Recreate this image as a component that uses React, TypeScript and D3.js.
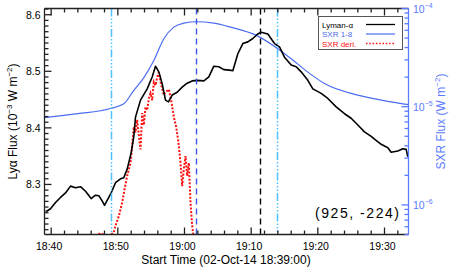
import * as d3 from "d3";

const width = 454;
const height = 272;
const plot = { left: 44.5, right: 408.5, top: 8.5, bottom: 234.5 };

const font = "'Liberation Sans', Arial, Helvetica, sans-serif";
const blue = "#4b6cf0";
const axisBlue = "#5a7bff";
const cyan = "#4ec0ff";
const red = "#ff1010";

// time axis: minutes after the start time 18:39:00
const startTime = new Date(2014, 9, 2, 18, 39, 0);
const endMinute = 54.6;

// Lyman-alpha flux (10^-3 W m^-2)
const lyaMinutes = [
  0.15, 0.4, 0.9, 1.65, 2.4, 3.15, 3.9, 4.65, 5.4, 6.15, 7.0, 7.65, 8.15, 8.65, 9.0, 9.5,
  10.0, 10.65, 11.4, 11.9, 12.4, 13.0, 13.4, 13.65, 14.4, 15.4, 16.15, 16.65, 17.15, 17.65,
  18.15, 18.6, 19.15, 19.9, 20.65, 21.4, 22.15, 22.9, 23.9, 24.65, 25.4, 26.15, 26.9, 27.75,
  28.25, 29.0, 29.75, 30.5, 31.25, 32.0, 32.5, 33.5, 34.5, 35.25, 36.0, 37.0, 37.75, 38.5,
  39.5, 40.25, 41.5, 42.5, 43.75, 45.0, 46.0, 47.0, 48.0, 49.0, 49.5, 50.5, 51.5, 52.0, 53.0,
  53.75, 54.25, 54.5,
];
const lyaFlux = [
  8.253, 8.253, 8.257, 8.268, 8.277, 8.285, 8.297, 8.294, 8.296, 8.288, 8.275, 8.281, 8.28,
  8.271, 8.263, 8.274, 8.285, 8.303, 8.31, 8.312, 8.327, 8.356, 8.385, 8.419, 8.449, 8.469,
  8.49, 8.509, 8.499, 8.478, 8.449, 8.446, 8.458, 8.463, 8.472, 8.479, 8.483, 8.484, 8.483,
  8.49, 8.509, 8.508, 8.503, 8.502, 8.501, 8.531, 8.549, 8.552, 8.558, 8.566, 8.569, 8.566,
  8.549, 8.543, 8.525, 8.511, 8.508, 8.499, 8.484, 8.469, 8.461, 8.452, 8.437, 8.425, 8.417,
  8.405, 8.393, 8.385, 8.38, 8.371, 8.365, 8.357, 8.359, 8.363, 8.362, 8.349,
];

// GOES 1-8 A flux (W m^-2)
const sxrMinutes = [
  0, 5, 9.9, 11.9, 13.4, 14.9, 16.4, 17.9, 19.4, 20.9, 22.75, 25.4, 27.9, 32, 34.5, 37, 39.5,
  42, 47, 52, 54.6,
];
const sxrFlux = [
  7.75e-6, 8.5e-6, 9.6e-6, 1.07e-5, 1.47e-5, 1.98e-5, 2.96e-5, 4.92e-5, 6.46e-5, 7.09e-5,
  7.33e-5, 7.09e-5, 6.46e-5, 5.23e-5, 4.11e-5, 3.08e-5, 2.25e-5, 1.72e-5, 1.31e-5, 1.12e-5,
  1.05e-5,
];

// SXR time derivative, scaled onto the Lyman-alpha axis
const derivMinutes = [
  7.2, 8.4, 9.3, 10.35, 10.65, 11.15, 11.65, 12.0, 12.4, 12.9, 13.15, 13.4, 13.65, 13.9, 14.15,
  14.4, 14.65, 14.9, 15.15, 15.4, 15.65, 15.9, 16.15, 16.4, 16.65, 16.9, 17.15, 17.3, 17.65,
  17.9, 18.15, 18.65, 19.0, 19.4, 19.75, 20.05, 20.15, 20.4, 20.65, 20.9, 21.15, 21.4, 21.65,
  21.9, 22.15, 22.4,
];
const derivValue = [
  8.205, 8.214, 8.208, 8.214, 8.227, 8.244, 8.268, 8.291, 8.315, 8.338, 8.368, 8.402, 8.392,
  8.414, 8.387, 8.362, 8.426, 8.405, 8.437, 8.431, 8.452, 8.461, 8.449, 8.481, 8.475, 8.489,
  8.498, 8.487, 8.469, 8.458, 8.463, 8.468, 8.449, 8.419, 8.402, 8.378, 8.368, 8.338, 8.297,
  8.327, 8.35, 8.315, 8.338, 8.268, 8.227, 8.205,
];

const markerTimes = ["18:49:00", "19:01:45", "19:11:20", "19:13:50"];
const markerKinds = ["dashdot", "dashblue", "dashblack", "dashdot"];

const lyaTicks = [8.3, 8.4, 8.5, 8.6];
const sxrTicks = [1e-6, 1e-5, 1e-4];
const lyaDomain = [8.2115, 8.611];
const sxrDomain = [5e-7, 1e-4];

const legendNames = ["Lyman-\u03b1", "SXR 1-8", "SXR deri."];
const location = "(925, -224)";
const xTitle = "Start Time (02-Oct-14 18:39:00)";

const atMinute = (m: number) => new Date(startTime.getTime() + Math.round(m * 60) * 1000);
const parseClock = (s: string) => {
  const [h, mi, se] = s.split(":").map(Number);
  return new Date(2014, 9, 2, h, mi, se);
};

const markerStyle: Record<string, { stroke: string; dash: string; w: number }> = {
  dashdot: { stroke: cyan, dash: "8 2 1.5 2 1.5 2 1.5 2", w: 1.5 },
  dashblue: { stroke: "#3a55e8", dash: "6 4", w: 1.4 },
  dashblack: { stroke: "#000", dash: "6 4", w: 1.4 },
};

export default function App() {
  const endTime = atMinute(endMinute);
  const x = d3.scaleTime().domain([startTime, endTime]).range([plot.left, plot.right]);
  const yL = d3.scaleLinear().domain(lyaDomain).range([plot.bottom, plot.top]);
  const yR = d3.scaleLog().domain(sxrDomain).range([plot.bottom, plot.top]);

  // 18:40 is one minute after the start; minor ticks every 2 min, majors every 10
  const tickMinutes = d3.range(1, endMinute, 2);
  const majorX = tickMinutes.filter((m) => (m - 1) % 10 === 0).map(atMinute);
  const fmt = d3.timeFormat("%H:%M");

  const minorL = d3
    .range(Math.ceil(lyaDomain[0] * 100), Math.floor(lyaDomain[1] * 100) + 1)
    .map((d) => d / 100);

  const minorR: number[] = [];
  for (let e = -7; e <= -5; e++) {
    for (let k = 2; k <= 9; k++) {
      const v = k * Math.pow(10, e);
      if (v >= sxrDomain[0] && v <= sxrDomain[1]) minorR.push(v);
    }
  }

  const lyaLine = d3
    .line<number>()
    .x((_, i) => x(atMinute(lyaMinutes[i])))
    .y((d) => yL(d));
  const sxrLine = d3
    .line<number>()
    .x((_, i) => x(atMinute(sxrMinutes[i])))
    .y((d) => yR(d))
    .curve(d3.curveMonotoneX);
  const derivLine = d3
    .line<number>()
    .x((_, i) => x(atMinute(derivMinutes[i])))
    .y((d) => yL(d));

  const legendColors = ["#000", blue, red];

  return (
    <svg
      width={width}
      height={height}
      style={{ position: "absolute", left: 0, top: 0, background: "#fff", fontFamily: font }}
    >
      <defs>
        <clipPath id="plotclip">
          <rect
            x={plot.left}
            y={plot.top}
            width={plot.right - plot.left}
            height={plot.bottom - plot.top}
          />
        </clipPath>
      </defs>

      <g clipPath="url(#plotclip)">
        <path d={sxrLine(sxrFlux) ?? ""} fill="none" stroke={blue} strokeWidth={1.2} />
        <path
          d={derivLine(derivValue) ?? ""}
          fill="none"
          stroke={red}
          strokeWidth={2}
          strokeDasharray="2 1.6"
        />
        <path
          d={lyaLine(lyaFlux) ?? ""}
          fill="none"
          stroke="#000"
          strokeWidth={1.6}
          strokeLinejoin="round"
        />
        {markerTimes.map((t, i) => {
          const s = markerStyle[markerKinds[i]];
          const px = Math.round(x(parseClock(t))) + 0.5;
          return (
            <line
              key={t}
              x1={px}
              x2={px}
              y1={plot.top}
              y2={plot.bottom}
              stroke={s.stroke}
              strokeWidth={s.w}
              strokeDasharray={s.dash}
            />
          );
        })}
      </g>

      {/* frame: left, bottom, top in black, right in blue; ticks point inward */}
      <g stroke="#222" strokeWidth={1.3}>
        <line x1={plot.left} x2={plot.left} y1={plot.top} y2={plot.bottom} />
        <line x1={plot.left} x2={plot.right} y1={plot.bottom} y2={plot.bottom} />
        <line x1={plot.left} x2={plot.right} y1={plot.top} y2={plot.top} />
        {tickMinutes.map((m) => {
          const px = x(atMinute(m));
          const len = (m - 1) % 10 === 0 ? 7 : 4;
          return (
            <g key={"x" + m}>
              <line x1={px} x2={px} y1={plot.bottom} y2={plot.bottom - len} />
              <line x1={px} x2={px} y1={plot.top} y2={plot.top + len} />
            </g>
          );
        })}
        {minorL.map((v) => {
          const py = yL(v);
          const len = lyaTicks.some((t) => Math.abs(t - v) < 1e-6) ? 7 : 4;
          return <line key={"l" + v} x1={plot.left} x2={plot.left + len} y1={py} y2={py} />;
        })}
      </g>
      <g stroke={axisBlue} strokeWidth={1.3}>
        <line x1={plot.right} x2={plot.right} y1={plot.top} y2={plot.bottom} />
        {sxrTicks.map((v) => (
          <line key={"R" + v} x1={plot.right} x2={plot.right - 7} y1={yR(v)} y2={yR(v)} />
        ))}
        {minorR.map((v) => (
          <line key={"r" + v} x1={plot.right} x2={plot.right - 4} y1={yR(v)} y2={yR(v)} />
        ))}
      </g>

      {/* tick labels */}
      <g fontSize={10.5} fill="#000">
        {majorX.map((d) => (
          <text key={+d} x={x(d) - 2} y={249.5} textAnchor="middle">
            {fmt(d)}
          </text>
        ))}
        {lyaTicks.map((v) => (
          <text key={v} x={40.5} y={yL(v) + 4} textAnchor="end">
            {v.toFixed(1)}
          </text>
        ))}
      </g>
      <g fontSize={10.5} fill={axisBlue}>
        {sxrTicks.map((v) => (
          <text key={v} x={413} y={yR(v) + 4}>
            10
            <tspan fontSize={7} dy={-5}>
              {"\u2212" + Math.round(-Math.log10(v))}
            </tspan>
          </text>
        ))}
      </g>

      {/* axis titles */}
      <text x={226} y={263.5} fontSize={12} textAnchor="middle">
        {xTitle}
      </text>
      <text
        transform={`translate(17,${(plot.top + plot.bottom) / 2}) rotate(-90)`}
        fontSize={12}
        textAnchor="middle"
      >
        {"Ly\u03b1 Flux (10"}
        <tspan fontSize={8} dy={-5}>
          {"\u22123"}
        </tspan>
        <tspan dy={5}>{" W m"}</tspan>
        <tspan fontSize={8} dy={-5}>
          {"\u22122"}
        </tspan>
        <tspan dy={5}>)</tspan>
      </text>
      <text
        transform={`translate(445,${(plot.top + plot.bottom) / 2}) rotate(-90)`}
        fontSize={12}
        textAnchor="middle"
        fill={axisBlue}
      >
        {"SXR Flux (W m"}
        <tspan fontSize={8} dy={-5}>
          {"\u22122"}
        </tspan>
        <tspan dy={5}>)</tspan>
      </text>

      <text x={315} y={217.5} fontSize={14} textLength={84}>
        {location}
      </text>

      {/* legend */}
      <rect x={318.5} y={16.5} width={84} height={33} fill="#fff" stroke="#555" strokeWidth={1} />
      {legendNames.map((name, i) => {
        const cy = 24.5 + i * 9.5;
        return (
          <g key={name}>
            <text x={322} y={cy + 3} fontSize={8} fill={legendColors[i]}>
              {name}
            </text>
            <line
              x1={366}
              x2={395}
              y1={cy}
              y2={cy}
              stroke={legendColors[i]}
              strokeWidth={i === 0 ? 1.3 : i === 1 ? 1.2 : 1.5}
              strokeDasharray={i === 2 ? "1.5 1.8" : undefined}
            />
          </g>
        );
      })}
    </svg>
  );
}
